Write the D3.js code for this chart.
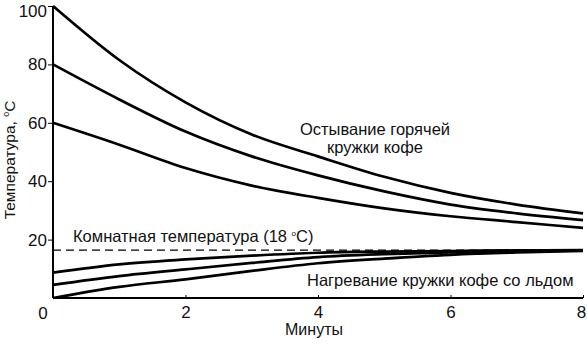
<!DOCTYPE html>
<html><head><meta charset="utf-8">
<script src="https://cdn.jsdelivr.net/npm/d3@7"></script>
<style>body{margin:0;background:#fff}svg{display:block}text{font-family:"Liberation Sans",Arial,sans-serif;fill:#111}</style>
</head><body><svg id="c" width="587" height="346"></svg>
<script>
const minutes = [0,1,2,3,4,5,6,7,8];
const cool100 = [100,81.5,67,56,48.5,41.5,36,32,29];
const cool80  = [80,68,57,48.5,42,36.5,32,29,26.7];
const cool60  = [60,52.5,44.5,38.5,34.3,30.7,28,26,24];
const warm9   = [8.7,11.5,13.2,14.5,15.5,15.9,16.1,16.3,16.4];
const warm4   = [4.5,7.5,9.8,12,14,15,15.6,16,16.3];
const warm0   = [0,3.8,6.4,9.3,11.9,13.5,14.8,15.6,16.1];
const roomTemp = 16.4;
const xTicks = [0,2,4,6,8];
const yTicks = [0,20,40,60,80,100];

const svg = d3.select("#c");
const x = d3.scaleLinear().domain([0,8]).range([53,583]);
const y = d3.scaleLinear().domain([0,100]).range([298,6]);

const line = d3.line().x((d,i)=>x(minutes[i])).y(d=>y(d)).curve(d3.curveMonotoneX);
[cool100,cool80,cool60,warm9,warm4,warm0].forEach(s=>{
  svg.append("path").attr("d",line(s)).attr("fill","none").attr("stroke","#000").attr("stroke-width",2.7);
});

svg.append("line").attr("x1",x(0)).attr("x2",x(8)).attr("y1",y(roomTemp)).attr("y2",y(roomTemp))
  .attr("stroke","#000").attr("stroke-width",1.2).attr("stroke-dasharray","8,5");

// axes
const yAxis = svg.append("g").attr("transform",`translate(${x(0)},0)`)
  .call(d3.axisLeft(y).tickValues(yTicks.filter(d=>d>0)).tickSize(5).tickPadding(1));
yAxis.select(".domain").attr("d",`M0,${y(100)}V${y(0)}`).attr("stroke","#000").attr("stroke-width",2);
yAxis.selectAll("text").style("font-size","17px").attr("fill","#111")
  .attr("dy",d=>d===100?"0.62em":"0.32em");

const xAxis = svg.append("g").attr("transform",`translate(0,${y(0)})`)
  .call(d3.axisBottom(x).tickValues(xTicks.filter(d=>d>0)).tickSize(-3).tickPadding(8));
xAxis.select(".domain").attr("d",`M${x(0)},0H${x(8)}`).attr("stroke","#000").attr("stroke-width",2);
xAxis.selectAll("text").style("font-size","17px").attr("fill","#111");
xAxis.selectAll(".tick").filter(d=>d===8).select("text").attr("x",-2);
svg.append("text").attr("x",x(0)-10).attr("y",y(0)+21).attr("text-anchor","middle").style("font-size","17px").text("0");

svg.append("text").attr("x",314).attr("y",335).attr("text-anchor","middle").style("font-size","16px").text("Минуты");

const yt = svg.append("text").attr("transform","translate(15,160) rotate(-90)").attr("text-anchor","middle").style("font-size","15.5px");
yt.append("tspan").text("Температура, ");
yt.append("tspan").attr("dy",-6).style("font-size","9px").text("o");
yt.append("tspan").attr("dy",6).text("C");

svg.append("text").attr("x",375).attr("y",135).attr("text-anchor","middle").style("font-size","16.5px").text("Остывание горячей");
svg.append("text").attr("x",375).attr("y",153).attr("text-anchor","middle").style("font-size","16.5px").text("кружки кофе");
const rt = svg.append("text").attr("x",73).attr("y",242).style("font-size","16.5px");
rt.append("tspan").text("Комнатная температура (18 ");
rt.append("tspan").attr("dy",-6).style("font-size","8px").text("o");
rt.append("tspan").attr("dy",6).text("C)");
svg.append("text").attr("x",307).attr("y",286).style("font-size","16.5px").text("Нагревание кружки кофе со льдом");
</script></body></html>
